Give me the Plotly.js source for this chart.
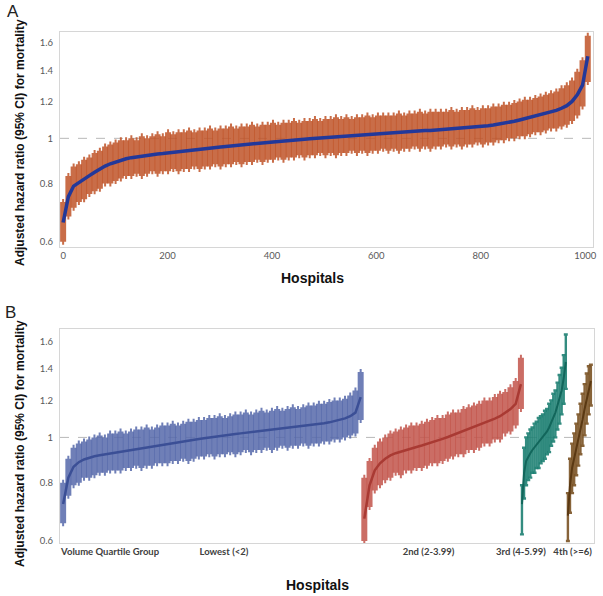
<!DOCTYPE html>
<html>
<head>
<meta charset="utf-8">
<script src="https://cdn.plot.ly/plotly-3.0.1.min.js"></script>
<style>html,body{margin:0;padding:0;background:#fff}#plot{width:603px;height:596px}</style>
</head>
<body>
<div id="plot"></div>
<script>
// --- Panel A: all hospitals ranked by adjusted HR (every ~10th hospital) ---
const stepA = 10.05;
const hrA = [0.66,0.75,0.79,0.805,0.818,0.832,0.846,0.86,0.872,0.882,
  0.89,0.898,0.904,0.909,0.913,0.917,0.92,0.923,0.926,0.928,
  0.931,0.934,0.936,0.939,0.942,0.944,0.947,0.95,0.953,0.955,
  0.958,0.96,0.963,0.965,0.968,0.97,0.973,0.975,0.978,0.98,
  0.982,0.985,0.987,0.989,0.992,0.994,0.996,0.998,1.0,1.002,
  1.004,1.006,1.008,1.01,1.012,1.014,1.016,1.018,1.02,1.022,
  1.024,1.026,1.028,1.029,1.031,1.033,1.034,1.036,1.037,1.039,
  1.04,1.042,1.043,1.045,1.047,1.049,1.051,1.053,1.055,1.057,
  1.06,1.064,1.068,1.072,1.077,1.082,1.088,1.095,1.102,1.109,
  1.116,1.123,1.131,1.139,1.148,1.16,1.175,1.2,1.24,1.3,1.5];
const loA = [0.60,0.68,0.71,0.73,0.74,0.76,0.77,0.78,0.80,0.80,
  0.81,0.82,0.83,0.83,0.84,0.83,0.84,0.85,0.84,0.85,
  0.85,0.86,0.85,0.86,0.86,0.87,0.86,0.87,0.87,0.88,
  0.87,0.88,0.88,0.89,0.88,0.89,0.89,0.90,0.89,0.90,
  0.90,0.91,0.90,0.91,0.91,0.92,0.91,0.92,0.92,0.93,
  0.92,0.93,0.92,0.93,0.93,0.94,0.93,0.94,0.93,0.94,
  0.94,0.95,0.94,0.95,0.94,0.95,0.95,0.96,0.95,0.96,
  0.95,0.96,0.96,0.97,0.96,0.97,0.96,0.97,0.97,0.98,
  0.97,0.98,0.98,0.99,0.99,1.00,1.00,1.01,1.01,1.02,
  1.03,1.03,1.04,1.05,1.05,1.06,1.07,1.09,1.12,1.17,1.32];
const hiA = [0.73,0.83,0.87,0.88,0.90,0.91,0.93,0.94,0.96,0.97,
  0.98,0.99,0.99,1.00,0.99,1.01,1.00,1.01,1.02,1.01,
  1.03,1.02,1.03,1.03,1.04,1.03,1.04,1.04,1.05,1.04,
  1.05,1.05,1.06,1.05,1.06,1.06,1.07,1.06,1.07,1.07,
  1.08,1.07,1.08,1.08,1.09,1.08,1.09,1.09,1.10,1.09,
  1.10,1.10,1.11,1.10,1.11,1.10,1.11,1.11,1.12,1.11,
  1.12,1.12,1.12,1.12,1.13,1.12,1.13,1.13,1.14,1.13,
  1.14,1.14,1.14,1.14,1.15,1.14,1.15,1.15,1.16,1.15,
  1.16,1.16,1.17,1.17,1.18,1.18,1.19,1.20,1.21,1.21,
  1.22,1.23,1.24,1.25,1.26,1.28,1.30,1.33,1.39,1.47,1.66];

// --- Panel B: hospitals grouped by volume quartile ---
const groupNames = ['Lowest (<2)','2nd (2-3.99)','3rd (4-5.99)','4th (>=6)'];
const groupStart = [0, 577, 879, 967];
const groupStep = [10, 10, 4, 4];

const hrLow = [0.72,0.82,0.865,0.885,0.897,0.905,0.911,0.916,0.920,0.924,
  0.928,0.932,0.936,0.940,0.944,0.948,0.952,0.956,0.960,0.964,
  0.968,0.972,0.976,0.980,0.984,0.988,0.992,0.996,1.0,1.004,
  1.008,1.011,1.014,1.017,1.020,1.023,1.026,1.029,1.032,1.035,
  1.038,1.041,1.044,1.047,1.050,1.053,1.056,1.059,1.063,1.067,
  1.072,1.077,1.083,1.090,1.098,1.11,1.13,1.22];
const loLow = [0.655,0.75,0.79,0.80,0.82,0.82,0.83,0.84,0.84,0.85,
  0.85,0.85,0.86,0.86,0.87,0.86,0.87,0.87,0.88,0.88,
  0.88,0.89,0.89,0.90,0.89,0.90,0.91,0.91,0.92,0.91,
  0.92,0.92,0.93,0.92,0.93,0.94,0.93,0.94,0.94,0.95,
  0.94,0.95,0.96,0.95,0.96,0.96,0.97,0.96,0.97,0.97,
  0.98,0.98,0.99,0.99,1.00,1.01,1.02,1.09];
const hiLow = [0.80,0.90,0.95,0.97,0.98,0.99,1.00,1.01,1.00,1.02,
  1.02,1.03,1.02,1.03,1.04,1.04,1.05,1.04,1.05,1.06,
  1.06,1.07,1.06,1.07,1.08,1.08,1.09,1.09,1.10,1.10,
  1.11,1.10,1.11,1.12,1.12,1.13,1.12,1.13,1.14,1.13,
  1.14,1.15,1.14,1.15,1.16,1.15,1.16,1.17,1.17,1.18,
  1.18,1.19,1.20,1.20,1.21,1.23,1.26,1.38];

const hrSecond = [0.67,0.79,0.85,0.88,0.90,0.915,0.925,0.933,0.94,0.947,
  0.954,0.961,0.968,0.976,0.984,0.993,1.002,1.012,1.022,1.032,
  1.042,1.052,1.062,1.073,1.085,1.097,1.11,1.13,1.15,1.18,1.3];
const loSecond = [0.60,0.71,0.77,0.79,0.81,0.82,0.84,0.83,0.85,0.85,
  0.86,0.86,0.87,0.88,0.88,0.89,0.90,0.91,0.92,0.92,
  0.94,0.94,0.95,0.97,0.97,0.99,0.99,1.02,1.03,1.06,1.15];
const hiSecond = [0.82,0.89,0.95,0.98,1.00,1.02,1.03,1.04,1.05,1.06,
  1.06,1.07,1.08,1.09,1.10,1.10,1.12,1.13,1.13,1.15,
  1.16,1.17,1.18,1.20,1.20,1.22,1.24,1.25,1.28,1.32,1.48];

const hrThird = [0.72,0.84,0.89,0.91,0.925,0.94,0.952,0.963,0.975,0.988,
  1.0,1.015,1.03,1.05,1.075,1.10,1.13,1.17,1.21,1.26,1.34,1.45];
const loThird = [0.62,0.74,0.79,0.81,0.82,0.84,0.84,0.86,0.86,0.88,
  0.89,0.90,0.92,0.93,0.96,0.98,1.00,1.04,1.07,1.12,1.18,1.27];
const hiThird = [0.79,0.95,1.00,1.02,1.04,1.05,1.07,1.08,1.10,1.11,
  1.12,1.14,1.15,1.18,1.20,1.24,1.26,1.31,1.36,1.41,1.50,1.66];

const hrFourth = [0.68,0.79,0.86,0.90,0.94,0.99,1.04,1.09,1.15,1.21,1.27,1.32];
const loFourth = [0.60,0.69,0.76,0.79,0.83,0.87,0.92,0.96,1.01,1.07,1.12,1.17];
const hiFourth = [0.76,0.90,0.97,1.02,1.07,1.12,1.18,1.24,1.30,1.37,1.42,1.43];

const ticksA = [0,200,400,600,800,1000];
const ticksB = [90,308,700,877,976];
const ticksBText = ['Volume Quartile Group'].concat(groupNames);
const yTicks = [0.6,0.8,1,1.2,1.4,1.6];

// --- helpers ---
function ranks(start, step, n){ const out=[]; for(let i=0;i<n;i++) out.push(start+i*step); return out }

function ciTrace(x, hr, lo, hi, color, thick, cap, xa, ya){
  return { x:x, y:hr, type:'scatter', mode:'markers', xaxis:xa, yaxis:ya,
    marker:{size:1, opacity:0}, hoverinfo:'skip', showlegend:false,
    error_y:{type:'data', symmetric:false,
      array: hi.map((v,i)=>v-hr[i]), arrayminus: hr.map((v,i)=>v-lo[i]),
      color:color, thickness:thick, width:cap} }
}
function lineTrace(x, hr, color, w, xa, ya){
  return { x:x, y:hr, type:'scatter', mode:'lines', xaxis:xa, yaxis:ya,
    line:{color:color, width:w}, hoverinfo:'skip', showlegend:false }
}

const xA = ranks(0, stepA, hrA.length);
const xLow = ranks(groupStart[0], groupStep[0], hrLow.length);
const x2nd = ranks(groupStart[1], groupStep[1], hrSecond.length);
const x3rd = ranks(groupStart[2], groupStep[2], hrThird.length);
const x4th = ranks(groupStart[3], groupStep[3], hrFourth.length);

const traces = [
  ciTrace(xA, hrA, loA, hiA, 'rgba(192,84,40,0.85)', 6, 1, 'x', 'y'),
  lineTrace(xA, hrA, '#22389a', 3.5, 'x', 'y'),
  ciTrace(xLow, hrLow, loLow, hiLow, 'rgba(86,104,170,0.85)', 6, 1, 'x2', 'y2'),
  lineTrace(xLow, hrLow, '#3b4f96', 2.5, 'x2', 'y2'),
  ciTrace(x2nd, hrSecond, loSecond, hiSecond, 'rgba(194,84,74,0.85)', 6, 1, 'x2', 'y2'),
  lineTrace(x2nd, hrSecond, '#a93a33', 2.5, 'x2', 'y2'),
  ciTrace(x3rd, hrThird, loThird, hiThird, 'rgba(29,128,114,0.9)', 2.4, 2, 'x2', 'y2'),
  lineTrace(x3rd, hrThird, '#12665b', 2, 'x2', 'y2'),
  ciTrace(x4th, hrFourth, loFourth, hiFourth, 'rgba(122,82,36,0.9)', 2.4, 2, 'x2', 'y2'),
  lineTrace(x4th, hrFourth, '#5a3812', 2, 'x2', 'y2')
];

const tickFont = {family:'Lato, "Liberation Sans", sans-serif', size:9.5, color:'#595959'};
const frame = {showline:true, mirror:true, linecolor:'#d6d6d6', linewidth:1, showgrid:false, zeroline:false, ticks:''};

const yAxisCommon = Object.assign({}, frame, {type:'log', tickvals:yTicks, ticktext:yTicks.map(String), tickfont:tickFont, ticklabelstandoff:4});

const layout = {
  width:603, height:596, margin:{l:0,r:0,t:0,b:0}, paper_bgcolor:'#fff', plot_bgcolor:'#fff',
  showlegend:false,
  xaxis: Object.assign({}, frame, {domain:[60/603, 593/603], range:[-6,1015], tickvals:ticksA, tickfont:tickFont, anchor:'y'}),
  yaxis: Object.assign({}, yAxisCommon, {domain:[1-247/596, 1-32/596], range:[-0.233,0.228], anchor:'x'}),
  xaxis2: Object.assign({}, frame, {domain:[60/603, 594/603], range:[-6,1017], tickvals:ticksB, ticktext:ticksBText,
    tickfont:{family:'Lato, "Liberation Sans", sans-serif', size:9.5, color:'#404040', weight:'bold'}, anchor:'y2'}),
  yaxis2: Object.assign({}, yAxisCommon, {domain:[1-543/596, 1-329/596], range:[-0.226,0.232], anchor:'x2'}),
  shapes:[
    {type:'line', xref:'x domain', yref:'y', x0:0, x1:1, y0:1, y1:1, layer:'below', line:{color:'#b8b8b8', width:1, dash:'dash'}},
    {type:'line', xref:'x2 domain', yref:'y2', x0:0, x1:1, y0:1, y1:1, layer:'below', line:{color:'#b8b8b8', width:1, dash:'dash'}}
  ],
  annotations:[
    {text:'A', xref:'paper', yref:'paper', x:13/603, y:1-12/596, showarrow:false, xanchor:'center', yanchor:'middle', font:{family:'"Liberation Sans", Arial, sans-serif', size:17, color:'#222'}},
    {text:'B', xref:'paper', yref:'paper', x:10/603, y:1-312/596, showarrow:false, xanchor:'center', yanchor:'middle', font:{family:'"Liberation Sans", Arial, sans-serif', size:17, color:'#222'}},
    {text:'Adjusted hazard ratio (95% CI) for mortality', xref:'paper', yref:'paper', x:20/603, y:1-143/596, textangle:-90, showarrow:false, xanchor:'center', yanchor:'middle', font:{family:'"Liberation Sans", Arial, sans-serif', size:12, color:'#111', weight:'bold'}},
    {text:'Adjusted hazard ratio (95% CI) for mortality', xref:'paper', yref:'paper', x:20/603, y:1-444/596, textangle:-90, showarrow:false, xanchor:'center', yanchor:'middle', font:{family:'"Liberation Sans", Arial, sans-serif', size:12, color:'#111', weight:'bold'}},
    {text:'Hospitals', xref:'paper', yref:'paper', x:312/603, y:1-278/596, showarrow:false, xanchor:'center', yanchor:'middle', font:{family:'"Liberation Sans", Arial, sans-serif', size:14, color:'#111', weight:'bold'}},
    {text:'Hospitals', xref:'paper', yref:'paper', x:317/603, y:1-585/596, showarrow:false, xanchor:'center', yanchor:'middle', font:{family:'"Liberation Sans", Arial, sans-serif', size:14, color:'#111', weight:'bold'}}
  ]
};

Plotly.newPlot('plot', traces, layout, {staticPlot:true, displayModeBar:false});
</script>
</body>
</html>
